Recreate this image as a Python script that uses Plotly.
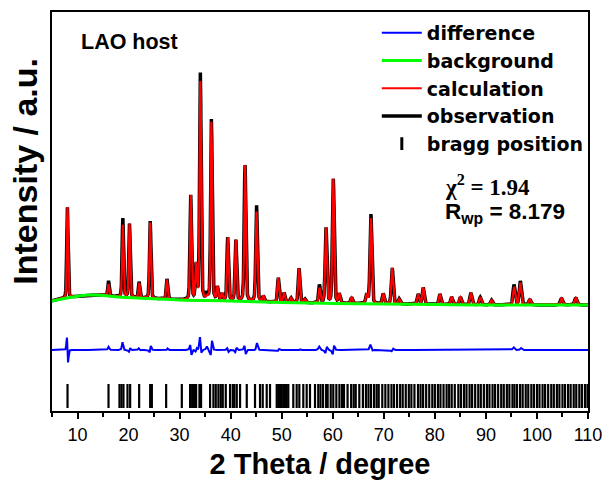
import numpy as np
import plotly.graph_objects as go

# ---------------- data ----------------
# Reflections: position (2theta, deg), calculated height above background (counts),
# extra observed height at the tip, and small observed shift (deg)
peak_pos = [8.04, 16.07, 18.88, 20.18, 22.07, 24.23, 27.5, 32.19, 33.23, 34.07,
            35.32, 36.22, 37.4, 38.26, 39.43, 41.0, 42.82, 45.07, 46.4, 49.32,
            50.45, 51.82, 53.39, 54.56, 57.4, 58.67, 60.1, 61.27, 63.7, 66.64,
            67.48, 69.88, 71.64, 73.01, 76.73, 77.71, 80.98, 83.27, 84.99, 87.05,
            88.9, 91.1, 95.52, 96.73, 98.59, 104.8, 107.6]
peak_calc = [2275, 300, 1800, 1840, 370, 1900, 490, 2610, 860, 5470,
             60, 4450, 325, 160, 1575, 1520, 3400, 2250, 140, 610,
             240, 110, 860, 90, 370, 1880, 3110, 225, 150, 225,
             2140, 255, 900, 125, 250, 420, 260, 190, 190, 300,
             190, 120, 445, 555, 140, 170, 180]
peak_obs_extra = [0, 80, 170, 0, 30, 35, 20, 0, 0, 200,
                  90, 80, 0, 0, 0, 0, 0, 150, 0, 0,
                  0, 0, 0, 0, 80, 0, 0, 0, 0, 0,
                  100, 0, 0, 0, 0, 0, 0, 0, 0, 0,
                  0, 0, 60, 40, 0, 0, 0]
peak_obs_shift = [-0.03, 0, -0.006, 0.006, -0.012, 0.01, 0.012, -0.012, 0.012, -0.008,
                  0, 0.01, 0, 0, -0.008, 0.01, -0.008, 0.006, 0, 0.012,
                  0, 0, 0.006, 0, -0.012, 0.012, 0.01, 0, 0, 0,
                  -0.008, 0, 0.012, 0, 0, 0, 0, 0, 0, 0,
                  0, 0, -0.012, 0.012, 0, 0, 0]

# Background (green) control points
bg_theta = [5, 8, 12, 15, 18, 24, 30, 40, 50, 60, 70, 80, 90, 110]
bg_counts = [975, 1050, 1125, 1112, 1075, 1038, 1000, 975, 938, 912, 900, 888, 875, 875]

# Bragg reflection positions (2theta, deg)
bragg_pos = [8.04, 16.07, 18.22, 18.61, 19.0, 19.79, 20.31, 22.07, 24.23, 24.56,
             27.36, 30.43, 32.05, 32.45, 32.84, 33.23, 33.88, 34.2, 35.97, 36.62,
             37.08, 37.6, 38.06, 38.45, 39.04, 39.88, 40.41, 40.73, 41.19, 41.84,
             43.15, 44.77, 45.75, 46.28, 47.06, 47.71, 49.02, 49.33, 49.67, 50.0,
             50.31, 50.64, 50.98, 51.29, 52.27, 52.93, 53.45, 54.23, 54.89, 55.54,
             56.52, 57.16, 57.6, 58.1, 58.7, 59.0, 59.6, 60.1, 60.7, 61.3,
             61.8, 62.2, 62.9, 63.6, 64.1, 64.5, 65.2, 65.9, 66.5, 67.0,
             67.5, 68.1, 68.6, 69.0, 69.7, 70.3, 70.9, 71.5, 72.0, 72.6,
             73.2, 73.7, 74.3, 74.9, 75.4, 76.0, 76.7, 77.2, 77.7, 78.3,
             78.9, 79.5, 80.0, 80.6, 81.1, 81.7, 82.3, 82.8, 83.3, 83.9,
             84.6, 85.1, 85.7, 86.2, 86.8, 87.3, 87.9, 88.5, 89.0, 89.6,
             90.2, 90.7, 91.3, 91.8, 92.4, 93.0, 93.5, 94.1, 94.6, 95.2,
             95.6, 96.1, 96.7, 97.2, 97.8, 98.3, 98.9, 99.4, 100.0, 100.5,
             101.1, 101.6, 102.2, 102.8, 103.3, 103.9, 104.4, 105.0, 105.5, 106.1,
             106.6, 107.2, 107.7, 108.3, 108.8, 109.4, 109.9]

diff_offset = -250
bragg_top, bragg_bottom = -1100, -1700
y_range = [-1775, 8200]
x_range = [5, 110]

# ---------------- profile model ----------------
tt = np.arange(5.0, 110.0001, 0.02)
bg_grid = np.interp(tt, bg_theta, bg_counts)


def pv(x, p, h, eta=0.3):
    w = 0.28 + 0.002 * p
    g = np.exp(-4 * np.log(2) * ((x - p) / w) ** 2)
    lor = 1.0 / (1.0 + 4 * ((x - p) / w) ** 2)
    return h * ((1 - eta) * g + eta * lor)


calc = bg_grid.copy()
obs = bg_grid.copy()
for p, h, e, s in zip(peak_pos, peak_calc, peak_obs_extra, peak_obs_shift):
    calc += pv(tt, p, h)
    obs += pv(tt, p + s, h + e)
diff = obs - calc + diff_offset

bx, by = [], []
for p in bragg_pos:
    bx += [p, p, None]
    by += [bragg_top, bragg_bottom, None]

bold_sans = dict(family="Liberation Sans", color="black", weight="bold")

fig = go.Figure()
fig.add_trace(go.Scatter(x=tt, y=obs, mode="lines", name="observation",
                         line=dict(color="black", width=3.5), legendrank=4))
fig.add_trace(go.Scatter(x=tt, y=calc, mode="lines", name="calculation",
                         line=dict(color="#ff0000", width=2.2), legendrank=3))
fig.add_trace(go.Scatter(x=bg_theta, y=bg_counts, mode="lines", name="background",
                         line=dict(color="#00ff00", width=3, shape="spline"), legendrank=2))
fig.add_trace(go.Scatter(x=tt, y=diff, mode="lines", name="difference",
                         line=dict(color="#0000ff", width=2), legendrank=1))
fig.add_trace(go.Scatter(x=bx, y=by, mode="lines", showlegend=False,
                         line=dict(color="black", width=2.2)))
fig.add_trace(go.Scatter(x=[None], y=[None], mode="markers", name="bragg position",
                         marker=dict(symbol="line-ns-open", size=9, color="black",
                                     line=dict(color="black", width=3)),
                         legendrank=5))

fig.add_annotation(text="LAO host", xref="paper", yref="paper", x=0.05, y=0.925,
                   xanchor="left", yanchor="middle", showarrow=False,
                   font=dict(size=21.5, **bold_sans))
fig.add_annotation(text="χ<sup>2</sup> = 1.94", xref="paper", yref="paper", x=0.729, y=0.566,
                   xanchor="left", yanchor="middle", showarrow=False,
                   font=dict(family="Liberation Serif", size=23, color="black", weight="bold"))
fig.add_annotation(text="R<sub>wp</sub> = 8.179", xref="paper", yref="paper", x=0.729, y=0.497,
                   xanchor="left", yanchor="middle", showarrow=False,
                   font=dict(size=22.5, **bold_sans))
fig.add_annotation(text="Intensity / a.u.", xref="paper", yref="paper", x=-0.052, y=0.6,
                   xanchor="center", yanchor="middle", textangle=-90, showarrow=False,
                   font=dict(size=34, **bold_sans))

fig.update_layout(
    width=609, height=481,
    margin=dict(l=52, r=21, t=12, b=70),
    paper_bgcolor="white", plot_bgcolor="white",
    showlegend=True,
    legend=dict(x=0.606, y=0.995, xanchor="left", yanchor="top",
                bgcolor="rgba(0,0,0,0)", itemwidth=40, tracegroupgap=0,
                font=dict(family="DejaVu Sans", size=19, color="black", weight="bold")),
    xaxis=dict(range=x_range, dtick=10, tick0=0, ticks="outside", ticklen=6, tickwidth=2,
               tickcolor="black", automargin=False,
               minor=dict(ticks="outside", dtick=5, ticklen=4, tickwidth=2, tickcolor="black"),
               showline=True, linewidth=2, linecolor="black", mirror=True,
               showgrid=False, zeroline=False,
               tickfont=dict(family="Liberation Sans", size=18, color="black"),
               title=dict(text="2 Theta / degree", standoff=10,
                          font=dict(size=29, **bold_sans))),
    yaxis=dict(range=y_range, showticklabels=False, ticks="", automargin=False,
               showline=True, linewidth=2, linecolor="black", mirror=True,
               showgrid=False, zeroline=False),
)

fig.write_html("out.html")
